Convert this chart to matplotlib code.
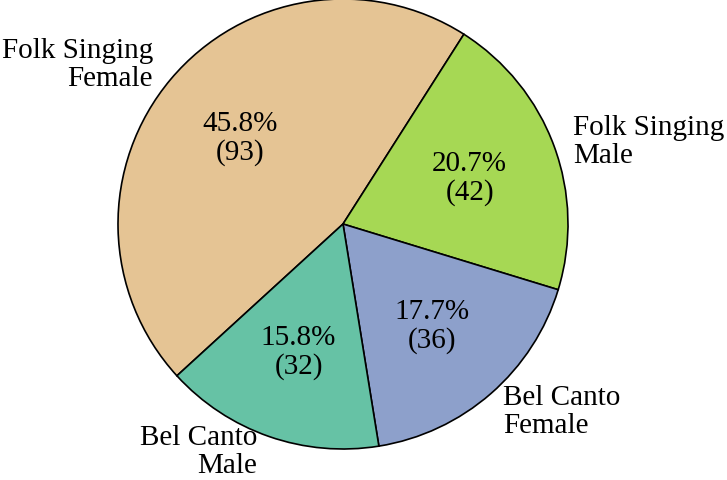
import matplotlib.pyplot as plt

plt.rcParams['font.family'] = ['Liberation Serif', 'DejaVu Serif']

labels = ['Folk Singing\nFemale', 'Folk Singing\nMale', 'Bel Canto\nFemale', 'Bel Canto\nMale']
counts = [93, 42, 36, 32]
colors = ['#E5C494', '#A6D854', '#8DA0CB', '#66C2A5']

total = sum(counts)


def fmt(pct):
    n = int(round(pct * total / 100.0))
    return '%.1f%%\n(%d)' % (pct, n)


fig = plt.figure(figsize=(7.27, 4.81), dpi=100)
ax = fig.add_axes([118 / 727, 31 / 481, 450 / 727, 450 / 481])

start = 57.5 + 360 * counts[0] / total
wedges, _, autotexts = ax.pie(counts, colors=colors, startangle=start, counterclock=False,
                              autopct=fmt, pctdistance=0.6, radius=1,
                              wedgeprops=dict(edgecolor='black', linewidth=1.2),
                              textprops=dict(fontsize=21, color='black'))
for t in autotexts:
    t.set_linespacing(1.1)

# outside labels
pos = [(-0.844, 0.71, 'right'), (1.022, 0.37, 'left'),
       (0.711, -0.83, 'left'), (-0.382, -1.01, 'right')]
for lab, (x, y, ha) in zip(labels, pos):
    ax.text(x, y, lab, ha=ha, va='center', fontsize=21, linespacing=1.1, multialignment=ha)

ax.set_xlim(-1, 1)
ax.set_ylim(-1, 1)
ax.axis('off')

plt.savefig('out.png', dpi=100)
